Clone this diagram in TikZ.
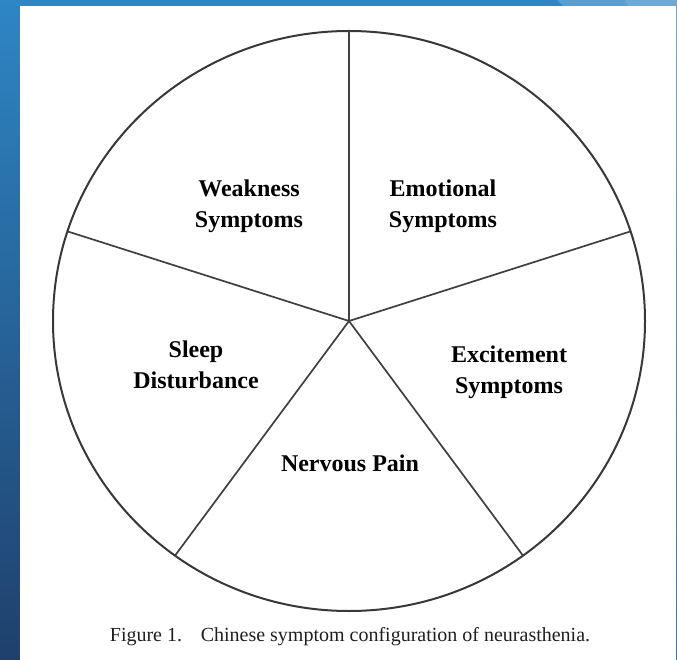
\documentclass[tikz,border=0pt]{standalone}
\usepackage{fontspec}
\setmainfont{Liberation Serif}
\begin{document}
\begin{tikzpicture}[x=1pt,y=-1pt,
  lbl/.style={font=\fontsize{24}{31}\selectfont\bfseries, align=center, inner sep=0pt, text=black},
  spoke/.style={draw=black!75, line width=1.7pt},
  rim/.style={draw=black!78, line width=2pt}]
\definecolor{bluetop}{RGB}{46,134,196}
\definecolor{bluebot}{RGB}{31,64,108}
\definecolor{bluelight}{RGB}{110,170,216}
\useasboundingbox (0,0) rectangle (677,660);
% background
\shade[top color=bluetop, bottom color=bluebot] (0,0) rectangle (677,660);
\fill[bluetop] (0,0) rectangle (677,6);
\fill[bluelight!70!bluetop] (557,0) -- (677,0) -- (677,6) -- (563,6) -- cycle;
\fill[bluelight] (625,0) -- (677,0) -- (677,6) -- (628,6) -- cycle;
\shade[top color=bluelight, bottom color=bluetop!80!bluebot] (675,0) rectangle (677,660);
% white panel
\fill[white] (20,6) rectangle (675.5,660);
% circle and spokes
\coordinate (c) at (349,321);
\draw[rim] (c) ellipse [x radius=296, y radius=290];
\foreach \a/\n in {90/e1,162/e2,234/e3,306/e4,18/e5}{
  \coordinate (\n) at ({349+296*cos(\a)},{321-290*sin(\a)});
  \draw[spoke] (c) -- (\n);
}
% labels
\node[lbl] (weak) at (249,206) {Weakness\\Symptoms};
\node[lbl] (emo) at (443,206) {Emotional\\Symptoms};
\node[lbl] (sleep) at (196,365) {Sleep\\Disturbance};
\node[lbl] (exc) at (509,372) {Excitement\\Symptoms};
\node[lbl] (pain) at (350,463) {Nervous Pain};
% caption
\node[font=\fontsize{20}{24}\selectfont, inner sep=0pt, text=black!88] (cap) at (350,637) {Figure 1.\hspace{0.6em} Chinese symptom configuration of neurasthenia.};
\end{tikzpicture}
\end{document}
